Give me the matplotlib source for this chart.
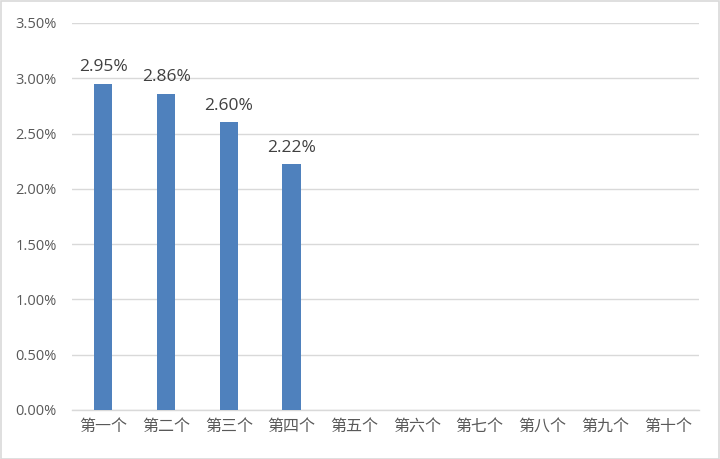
#!/usr/bin/env python3
from matplotlib import pyplot as plt
from matplotlib import ticker
from matplotlib.patches import Rectangle
import numpy as np

plt.rcParams['font.family'] = ['Noto Sans CJK SC', 'DejaVu Sans']

# データ
categories = ['第一个', '第二个', '第三个', '第四个', '第五个',
              '第六个', '第七个', '第八个', '第九个', '第十个']
values = [0.0295, 0.0286, 0.0260, 0.0222]
value_labels = ['2.95%', '2.86%', '2.60%', '2.22%']

fig = plt.figure(figsize=(7.2, 4.59), dpi=100)
ax = fig.add_axes([0.1, 0.107, 0.871, 0.843])

x = np.arange(len(categories))
ax.bar(x[:len(values)], values, width=0.29, color='#4F81BD', zorder=3)

for xi, v, lab in zip(x, values, value_labels):
    ax.annotate(lab, (xi, v), xytext=(0, 6), textcoords='offset points',
                ha='center', va='bottom', fontsize=12.5, color='#404040',
                family=['Open Sans', 'DejaVu Sans'])

ax.set_xlim(-0.5, len(categories) - 0.5)
ax.set_ylim(0, 0.035)
ax.yaxis.set_major_locator(ticker.MultipleLocator(0.005))
ax.yaxis.set_major_formatter(ticker.FuncFormatter(lambda v, p: f'{v*100:.2f}%'))
ax.set_xticks(x)
ax.set_xticklabels(categories)

ax.grid(axis='y', color='#D9D9D9', lw=1, zorder=0)
for s in ['top', 'right', 'left']:
    ax.spines[s].set_visible(False)
ax.spines['bottom'].set_color('#D9D9D9')
ax.spines['bottom'].set_linewidth(1)
ax.tick_params(length=0, colors='#595959')
ax.tick_params(axis='y', pad=11, labelsize=10.5)
ax.tick_params(axis='x', pad=6, labelsize=11.5)
for t in ax.get_yticklabels():
    t.set_family(['Open Sans', 'DejaVu Sans'])

# 外枠
fig.patches.append(Rectangle((0.001, 0.001), 0.998, 0.997, transform=fig.transFigure,
                             fill=False, edgecolor='#D9D9D9', lw=1.2))

plt.savefig('out.png')
